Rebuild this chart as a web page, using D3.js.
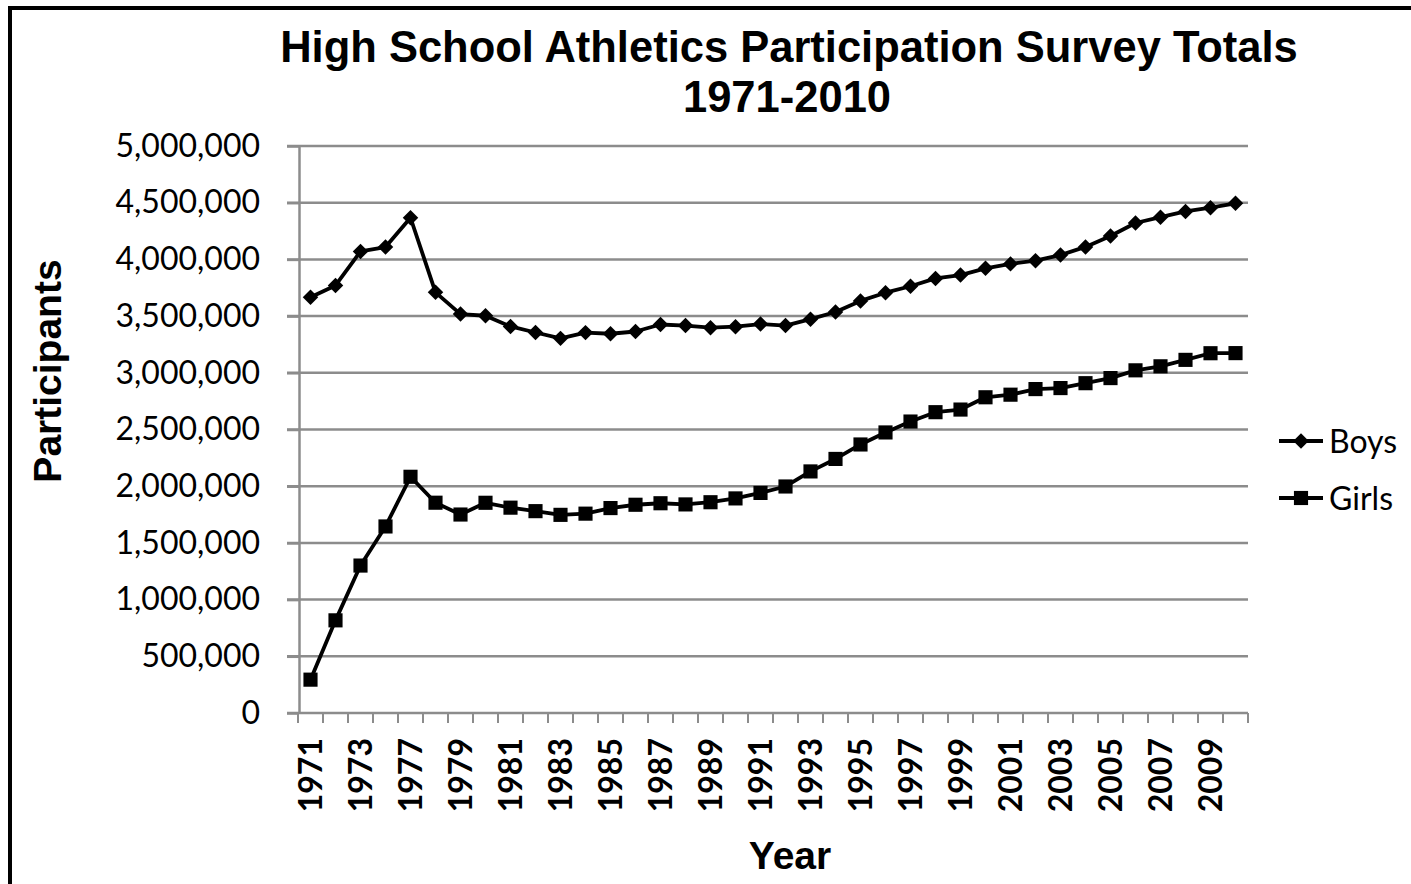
<!DOCTYPE html>
<html>
<head>
<meta charset="utf-8">
<script src="https://cdn.jsdelivr.net/npm/d3@7"></script>
<style>
    body { margin: 0; background: #fff; }
    svg { display: block; }
    .title { font-family: 'Liberation Sans', Arial, sans-serif; font-weight: bold; font-size: 43.5px; }
    .axis-title { font-family: 'Liberation Sans', Arial, sans-serif; font-weight: bold; font-size: 39px; }
    .y-axis text { font-family: Lato, sans-serif; font-size: 32px; fill: #000; }
    .x-axis text { font-family: Lato, sans-serif; font-weight: bold; font-size: 32px; fill: #000; }
    .legend text { font-family: Lato, sans-serif; font-size: 32px; }
</style>
</head>
<body>
<svg id="chart" width="1411" height="884"></svg>
<script>
// survey year (first year of season), 1974 and 1976 were not surveyed
const years = [1971, 1972, 1973, 1975, 1977, 1978, 1979, 1980, 1981, 1982,
    1983, 1984, 1985, 1986, 1987, 1988, 1989, 1990, 1991, 1992,
    1993, 1994, 1995, 1996, 1997, 1998, 1999, 2000, 2001, 2002,
    2003, 2004, 2005, 2006, 2007, 2008, 2009, 2010]

const boys = [3666917, 3770621, 4070125, 4109021, 4367442, 3709512, 3517829, 3503124, 3409081, 3355558,
    3303599, 3354284, 3344275, 3364082, 3425777, 3416844, 3398192, 3406355, 3429853, 3416389,
    3472967, 3536359, 3634052, 3706225, 3763120, 3832352, 3861749, 3921069, 3960517, 3988738,
    4038253, 4110319, 4206549, 4321103, 4372115, 4422662, 4455740, 4494406]

const girls = [294015, 817073, 1300169, 1645039, 2083040, 1854400, 1750264, 1853789, 1810671, 1779972,
    1747346, 1757884, 1807121, 1836356, 1849684, 1839352, 1858659, 1892316, 1940801, 1997489,
    2130315, 2240461, 2367936, 2474043, 2570271, 2652726, 2675874, 2784154, 2806998, 2856358,
    2865299, 2908390, 2953355, 3021807, 3057266, 3114091, 3172637, 3173549]

const yTicks = [0, 500000, 1000000, 1500000, 2000000, 2500000, 3000000, 3500000, 4000000, 4500000, 5000000]
const xLabels = years.filter((d, i) => i % 2 === 0)

const SERIES = [
    { name: 'Boys', values: boys, marker: 'diamond' },
    { name: 'Girls', values: girls, marker: 'square' }
]

const svg = d3.select('#chart')

const LEFT = 299, RIGHT = 1248, TOP = 146, BOTTOM = 713
const GRID = '#8c8c8c'

// frame (right and bottom edges fall outside the picture)
svg.append('rect')
    .attr('x', 10).attr('y', 8)
    .attr('width', 1430).attr('height', 900)
    .attr('fill', 'none')
    .attr('stroke', '#000')
    .attr('stroke-width', 4)

const x = d3.scaleBand()
    .domain(years)
    .range([LEFT - 1, RIGHT])

const y = d3.scaleLinear()
    .domain([0, 5000000])
    .range([BOTTOM, TOP])

// gridlines
svg.append('g')
    .selectAll('line')
    .data(yTicks)
    .enter().append('line')
    .attr('x1', LEFT - 12)
    .attr('x2', RIGHT)
    .attr('y1', d => y(d))
    .attr('y2', d => y(d))
    .attr('stroke', GRID)
    .attr('stroke-width', 2.5)

// y axis
const yAxis = svg.append('g')
    .attr('class', 'y-axis')
    .attr('transform', 'translate(' + LEFT + ',0)')
    .call(d3.axisLeft(y)
        .tickValues(yTicks)
        .tickSize(12)
        .tickSizeOuter(0)
        .tickPadding(27)
        .tickFormat(d => d === 0 ? '0' : d3.format(',')(d)))
yAxis.select('.domain').attr('stroke', GRID).attr('stroke-width', 2.5)
yAxis.selectAll('.tick line').attr('stroke', GRID).attr('stroke-width', 2.5)

// x axis ticks at category boundaries
const bounds = years.map(d => x(d)).concat([x.range()[1]])
svg.append('g')
    .selectAll('line')
    .data(bounds)
    .enter().append('line')
    .attr('x1', d => d)
    .attr('x2', d => d)
    .attr('y1', BOTTOM)
    .attr('y2', BOTTOM + 10)
    .attr('stroke', GRID)
    .attr('stroke-width', 2)

const xAxis = svg.append('g')
    .attr('class', 'x-axis')
    .attr('transform', 'translate(0,' + BOTTOM + ')')
    .call(d3.axisBottom(x)
        .tickValues(xLabels)
        .tickSize(0)
        .tickSizeOuter(0))
xAxis.select('.domain').remove()
xAxis.selectAll('text')
    .attr('transform', 'rotate(-90)')
    .attr('x', -25)
    .attr('y', 0)
    .attr('dy', '0.36em')
    .attr('text-anchor', 'end')

// lines and markers
const cx = d => x(d) + x.bandwidth() / 2
const line = d3.line()
    .x((d, i) => cx(years[i]))
    .y(d => y(d))

const markerPath = {
    diamond: d3.symbol(d3.symbolSquare, 120)(),
    square: d3.symbol(d3.symbolSquare, 200)()
}
const markerRotate = { diamond: 45, square: 0 }

SERIES.forEach(s => {
    svg.append('path')
        .datum(s.values)
        .attr('d', line)
        .attr('fill', 'none')
        .attr('stroke', '#000')
        .attr('stroke-width', 3.8)
        .attr('stroke-linejoin', 'round')

    svg.append('g')
        .selectAll('path')
        .data(s.values)
        .enter().append('path')
        .attr('d', markerPath[s.marker])
        .attr('transform', (d, i) => 'translate(' + cx(years[i]) + ',' + y(d) + ') rotate(' + markerRotate[s.marker] + ')')
        .attr('fill', '#000')
})

// legend
const legend = svg.append('g')
    .attr('class', 'legend')
    .selectAll('g')
    .data(SERIES)
    .enter().append('g')
    .attr('transform', (d, i) => 'translate(1279,' + (441 + i * 57) + ')')

legend.append('line')
    .attr('x1', 0).attr('x2', 44)
    .attr('stroke', '#000')
    .attr('stroke-width', 3.8)

legend.append('path')
    .attr('d', d => markerPath[d.marker])
    .attr('transform', d => 'translate(22,0) rotate(' + markerRotate[d.marker] + ')')
    .attr('fill', '#000')

legend.append('text')
    .attr('x', 50)
    .attr('dy', '0.36em')
    .text(d => d.name)

// titles
svg.append('text')
    .attr('class', 'title')
    .attr('x', 789).attr('y', 62)
    .attr('text-anchor', 'middle')
    .text('High School Athletics Participation Survey Totals')

svg.append('text')
    .attr('class', 'title')
    .attr('x', 787).attr('y', 112)
    .attr('text-anchor', 'middle')
    .text('1971-2010')

svg.append('text')
    .attr('class', 'axis-title')
    .attr('transform', 'translate(61,371) rotate(-90)')
    .attr('text-anchor', 'middle')
    .text('Participants')

svg.append('text')
    .attr('class', 'axis-title')
    .attr('x', 790).attr('y', 869)
    .attr('text-anchor', 'middle')
    .text('Year')
</script>
</body>
</html>
